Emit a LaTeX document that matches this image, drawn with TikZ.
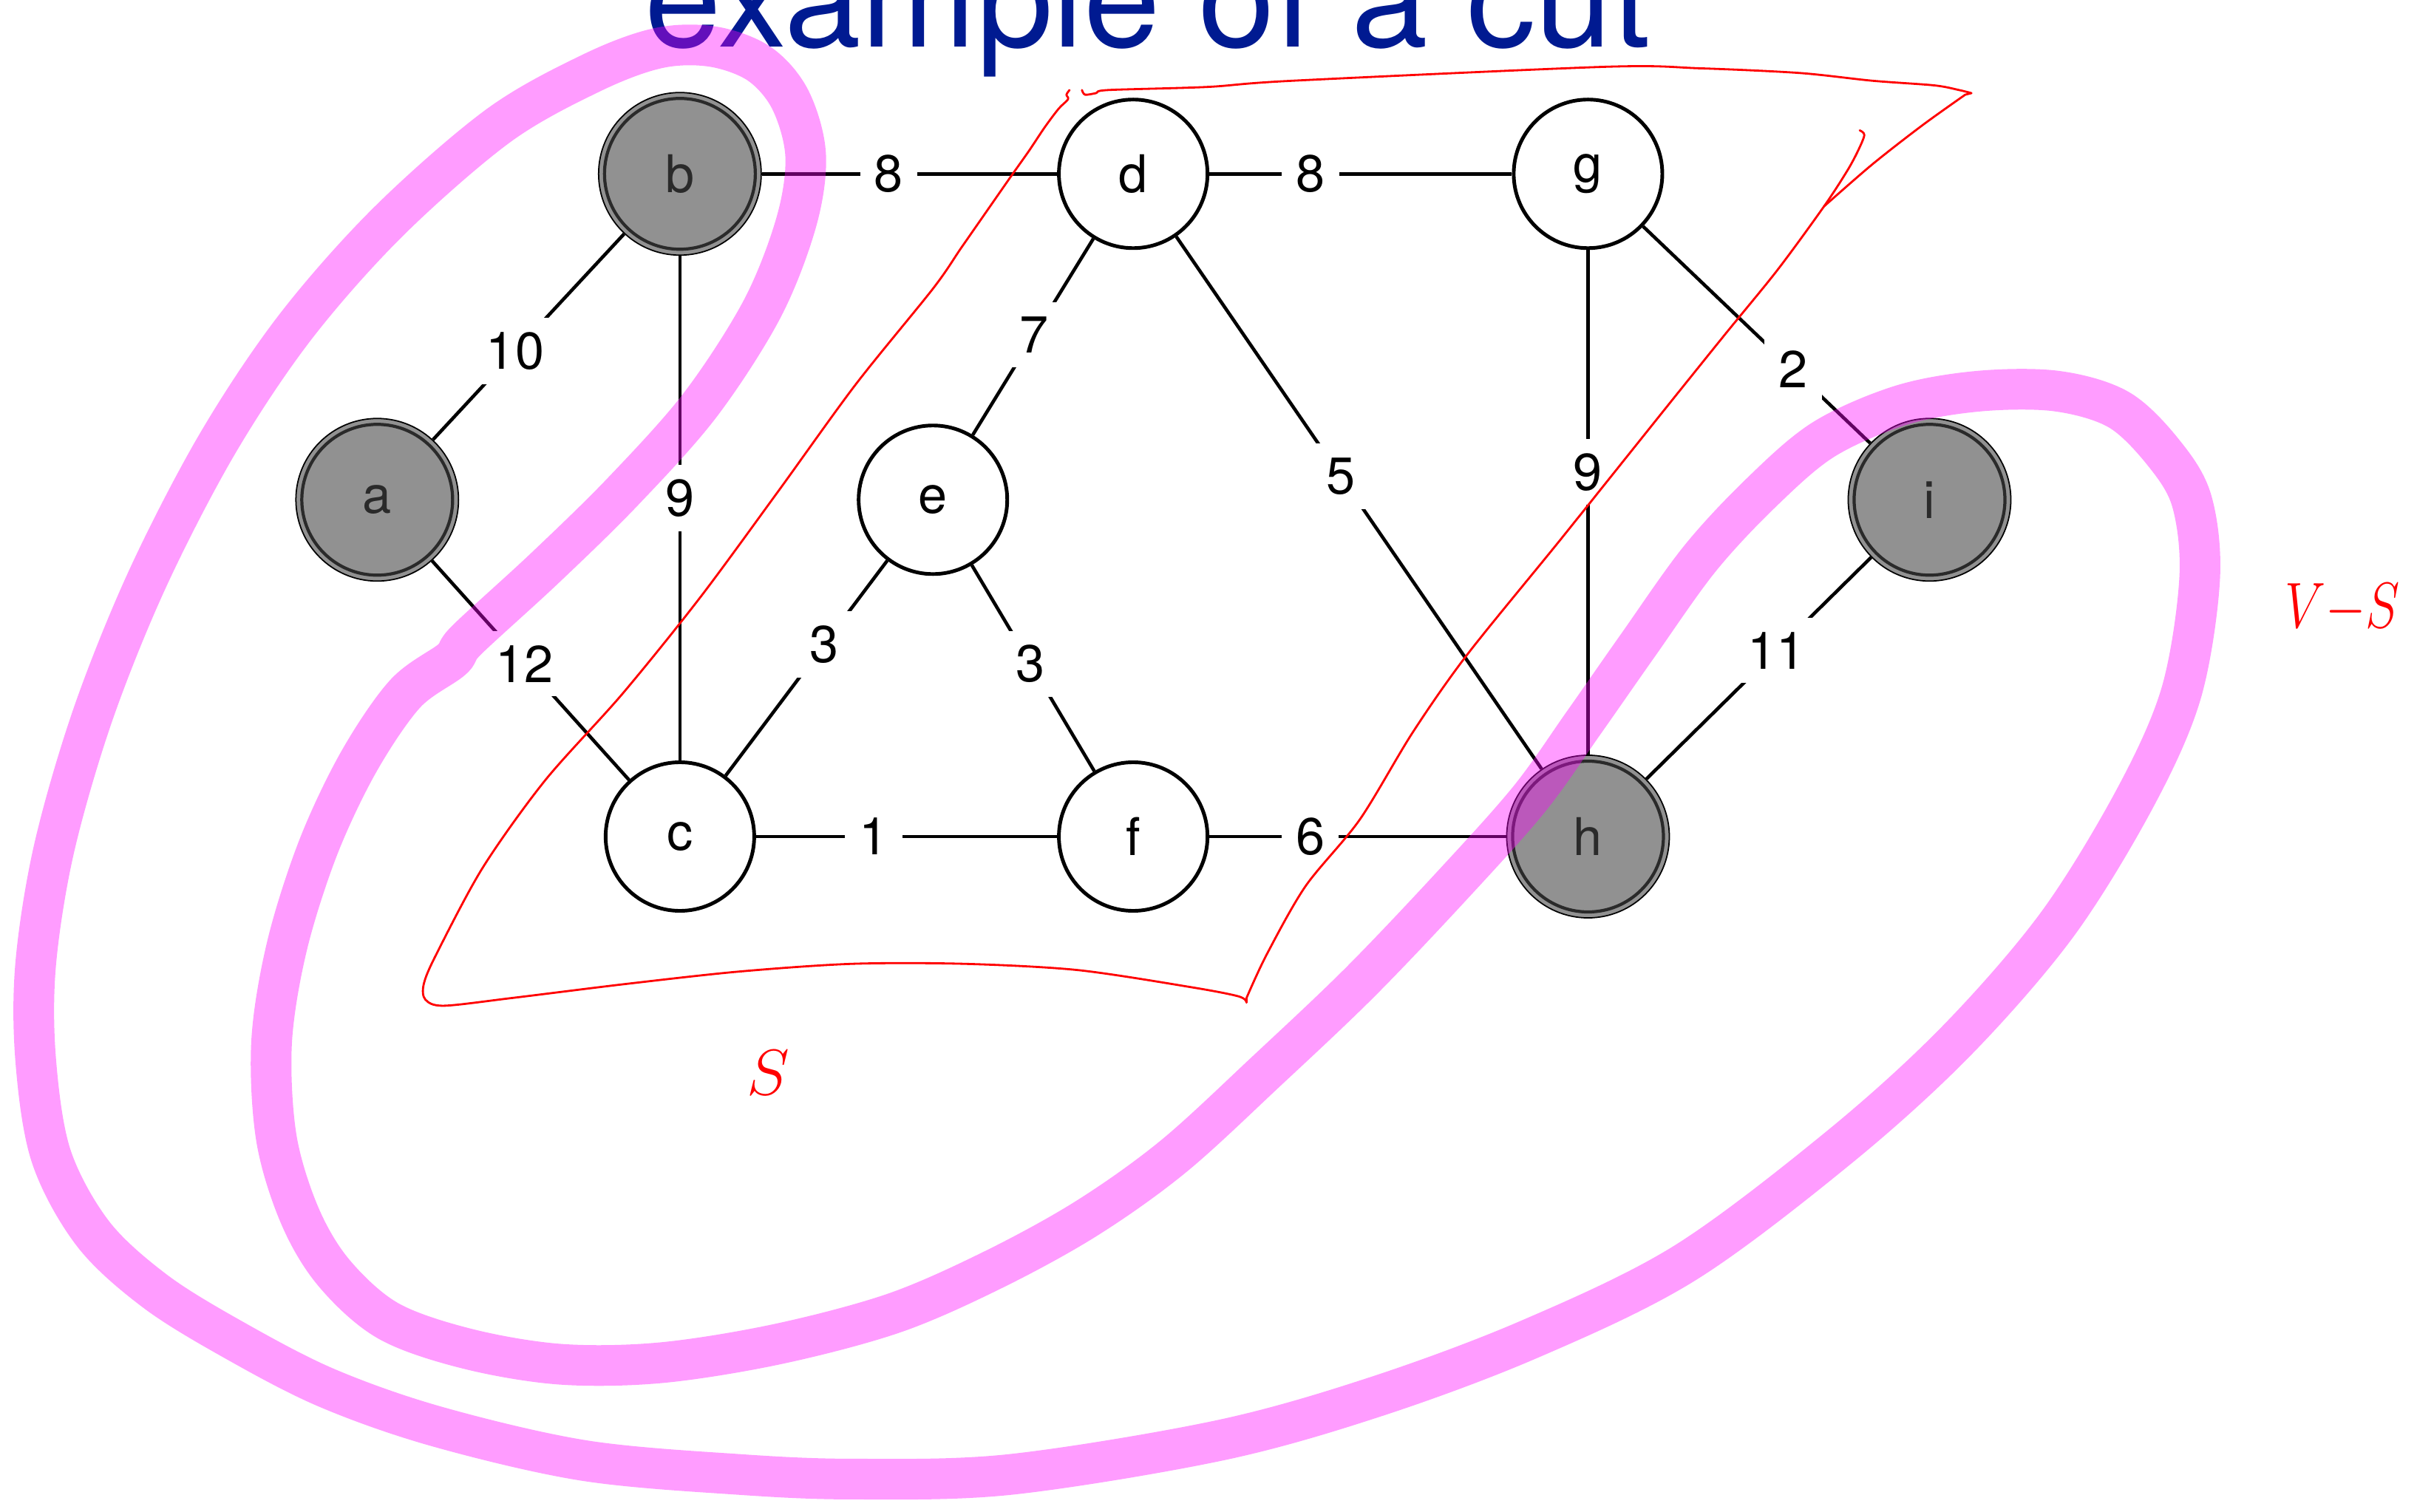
\documentclass[tikz,border=0pt]{standalone}
\usepackage{fontspec}
\setmainfont{TeX Gyre Heros}
\definecolor{titleblue}{RGB}{0,26,145}
\definecolor{nodegrey}{RGB}{145,145,145}
\definecolor{ringgrey}{RGB}{42,42,42}
\definecolor{penred}{RGB}{255,0,0}
\definecolor{hilite}{RGB}{255,0,255}
\begin{document}
\begin{tikzpicture}
    [x=0.021cm,y=-0.021cm,
    vertex/.style={circle,draw=black,line width=1.4pt,fill=white,minimum size=2.01cm,inner sep=0pt,font=\fontsize{20}{24}\selectfont},
    picked/.style={vertex,line width=0.5pt,fill=nodegrey,minimum size=2.2cm,text=ringgrey,
        path picture={\draw[ringgrey,line width=1.2pt] (path picture bounding box.center) circle (1.02cm);}},
    link/.style={line width=1.3pt},
    weight/.style={fill=white,inner sep=5.5pt,font=\fontsize{20}{24}\selectfont},
    cutband/.style={draw=hilite,draw opacity=0.39,line width=0.55cm,line cap=round,line join=round},
    pen/.style={draw=penred,line width=0.8pt,line cap=round,line join=round}]
    \useasboundingbox (0,0) rectangle (1568,974);
    %title
    \node[anchor=base west,inner sep=0pt,text=titleblue,font=\fontsize{53}{60}\selectfont] (title) at (415,30) {example of a cut};
    %vertices
    \node[picked] (a) at (243,322) {a};
    \node[picked] (b) at (438,112) {b};
    \node[vertex] (c) at (438,539) {c};
    \node[vertex] (d) at (730,112) {d};
    \node[vertex] (e) at (601,322) {e};
    \node[vertex] (f) at (730,539) {f};
    \node[vertex] (g) at (1023,112) {g};
    \node[picked] (h) at (1023,539) {h};
    \node[picked] (i) at (1243,322) {i};
    %weighted edges
    \draw[link] (a) -- node[weight,pos=0.43] (wab) {10} (b);
    \draw[link] (b) -- node[weight,pos=0.43] (wbd) {8} (d);
    \draw[link] (b) -- node[weight,pos=0.48] (wbc) {9} (c);
    \draw[link] (a) -- node[weight,pos=0.47] (wac) {12} (c);
    \draw[link] (d) -- node[weight,pos=0.335] (wdg) {8} (g);
    \draw[link] (d) -- node[weight,pos=0.49] (wde) {7} (e);
    \draw[link] (e) -- node[weight,pos=0.39] (wec) {3} (c);
    \draw[link] (e) -- node[weight,pos=0.48] (wef) {3} (f);
    \draw[link] (c) -- node[weight,pos=0.39] (wcf) {1} (f);
    \draw[link] (f) -- node[weight,pos=0.34] (wfh) {6} (h);
    \draw[link] (d) -- node[weight,pos=0.45] (wdh) {5} (h);
    \draw[link] (g) -- node[weight,pos=0.44] (wgh) {9} (h);
    \draw[link] (g) -- node[weight,pos=0.66] (wgi) {2} (i);
    \draw[link] (i) -- node[weight,pos=0.42] (wih) {11} (h);
    %highlighter stroke
    \draw[cutband] plot[smooth cycle,tension=0.55] coordinates {
        (301,412) (351,366) (401,317) (451,261) (491,199) (513,143) (519,100)
        (509,64) (489,41) (459,30) (424,31) (381,47) (321,81) (250,143)
        (190,211) (140,286) (95,373) (60,460) (35,546) (23,621) (23,683)
        (33,745) (60,795) (100,832) (150,863) (210,894) (281,919) (376,941)
        (476,950) (551,953) (651,950) (786,928) (886,900) (985,863) (1085,814)
        (1185,739) (1260,671) (1325,596) (1375,515) (1405,447) (1417,373)
        (1412,323) (1394,292) (1365,264) (1325,252) (1275,252) (1225,261)
        (1175,283) (1135,317) (1095,360) (1055,416) (1020,466) (985,515)
        (935,571) (876,633) (816,690) (756,745) (700,785) (640,818) (576,846)
        (501,866) (426,878) (361,879) (301,869) (250,851) (215,820) (193,783)
        (178,733) (175,671) (185,609) (205,546) (231,491) (261,447) (291,425)};
    %pen: the set S
    \draw[pen] plot[smooth,tension=0.5] coordinates {
        (689,58) (687,61) (688,64) (682,70) (673,82) (663,97) (651,114)
        (635,137) (619,160) (601,186) (551,248) (501,317) (451,385) (401,447)
        (351,503) (311,559) (281,615) (273,634) (274,644) (286,648) (330,643)
        (403,634) (476,626) (549,621) (621,621) (694,625) (767,636) (798,642) (803,646)}
        -- plot[smooth,tension=0.5] coordinates {
        (803,643) (816,615) (841,571) (876,528) (910,472) (945,422) (1005,348)
        (1065,273) (1110,217) (1145,174) (1175,133) (1190,110) (1197,97)
        (1201,87) (1198,84)};
    \draw[pen] plot[smooth,tension=0.5] coordinates {
        (697,58) (699,61) (706,60) (714,58) (778,56) (833,52) (1035,43)
        (1095,44) (1159,47) (1206,52) (1246,55) (1262,58) (1270,60)}
        -- plot[smooth,tension=0.5] coordinates {
        (1266,61) (1238,81) (1206,106) (1175,133)};
    \node[inner sep=0pt,text=penred,font=\fontsize{50}{60}\selectfont] (sset) at (495,691) {$S$};
    \node[inner sep=0pt,text=penred,font=\fontsize{40}{48}\selectfont,xscale=0.8,transform shape] (vset) at (1509,392) {$V{-}S$};
\end{tikzpicture}
\end{document}
